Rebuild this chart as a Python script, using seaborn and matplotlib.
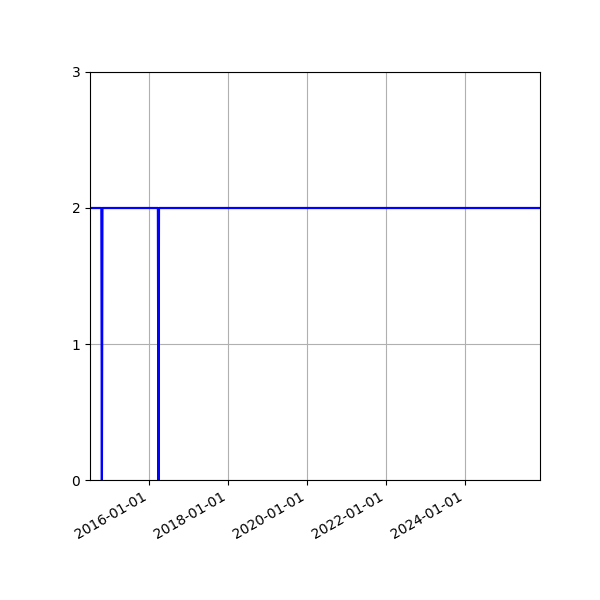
import matplotlib
matplotlib.use("Agg")
import matplotlib.pyplot as plt
import matplotlib.dates as mdates
import seaborn as sns
import pandas as pd

dates = ["2014-07-04", "2014-10-17", "2014-10-22", "2014-10-27",
         "2016-03-23", "2016-03-28", "2016-04-02", "2025-11-25"]
values = [2, 2, 0, 2, 2, 0, 2, 2]
yticks = [0, 1, 2, 3]

df = pd.DataFrame({"date": pd.to_datetime(dates), "value": values})

fig = plt.figure(figsize=(6, 6), dpi=100)
ax = fig.add_axes([0.15, 0.2, 0.75, 0.68])
sns.lineplot(data=df, x="date", y="value", ax=ax, color="#0000ff", linewidth=1.6)
ax.set_xlim(df["date"].min(), df["date"].max())
ax.set_ylim(0, 3)
ax.set_yticks(yticks)
ax.xaxis.set_major_locator(mdates.YearLocator(2))
ax.xaxis.set_major_formatter(mdates.DateFormatter("%Y-%m-%d"))
ax.grid(True, color="#b0b0b0", linewidth=0.8)
ax.set_xlabel("")
ax.set_ylabel("")
for lab in ax.get_xticklabels():
    lab.set_rotation(30)
    lab.set_ha("right")
fig.savefig("out.png", dpi=100)
